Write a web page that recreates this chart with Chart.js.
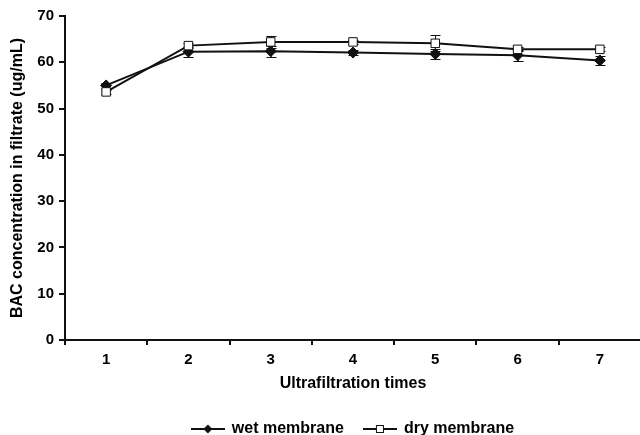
<!DOCTYPE html>
<html>
<head>
<meta charset="utf-8">
<script src="https://cdn.jsdelivr.net/npm/chart.js@4.4.1/dist/chart.umd.min.js"></script>
<style>
    html, body { margin: 0; padding: 0; background: #fff; overflow: hidden; width: 640px; height: 435px; }
    #wrap { position: relative; width: 648px; height: 447px; }
</style>
</head>
<body>
<div id="wrap"><canvas id="chart"></canvas></div>
<script>
const times       = ['1', '2', '3', '4', '5', '6', '7'];
const wetMembrane = [55.0, 62.3, 62.4, 62.1, 61.8, 61.5, 60.4];
const wetErrors   = [0.6, 1.1, 1.2, 0.5, 1.1, 1.2, 0.9];
const dryMembrane = [53.6, 63.6, 64.4, 64.4, 64.1, 62.8, 62.8];
const dryErrors   = [0.5, 0.5, 1.3, 0.4, 1.7, 0.4, 0.4];

const FONT = "'Liberation Sans', Arial, sans-serif";
const INK  = '#111';

// draws the little line + marker sample used in the legend
function legendSample(kind) {
    const c = document.createElement('canvas');
    c.width = 34; c.height = 10;
    const g = c.getContext('2d');
    g.strokeStyle = INK;
    g.lineWidth = 2;
    g.beginPath(); g.moveTo(0, 5); g.lineTo(34, 5); g.stroke();
    if (kind === 'diamond') {
        g.fillStyle = INK;
        g.beginPath();
        g.moveTo(17, 0.5); g.lineTo(21.5, 5); g.lineTo(17, 9.5); g.lineTo(12.5, 5);
        g.closePath(); g.fill();
    } else {
        g.fillStyle = '#fff';
        g.fillRect(13, 1, 8, 8);
        g.lineWidth = 1;
        g.strokeRect(13.5, 1.5, 7, 7);
    }
    return c;
}

// error bars are drawn behind the markers
const errorBars = {
    id: 'errorBars',
    beforeDatasetsDraw(chart) {
        const { ctx } = chart;
        const y = chart.scales.y;
        ctx.save();
        ctx.strokeStyle = INK;
        ctx.lineWidth = 1;
        chart.data.datasets.forEach((ds, i) => {
            chart.getDatasetMeta(i).data.forEach((pt, j) => {
                const top = y.getPixelForValue(ds.data[j] + ds.errors[j]);
                const bot = y.getPixelForValue(ds.data[j] - ds.errors[j]);
                const x = Math.round(pt.x) + 0.5;
                ctx.beginPath();
                ctx.moveTo(x, top); ctx.lineTo(x, bot);
                ctx.moveTo(x - 5, Math.round(top) + 0.5); ctx.lineTo(x + 5, Math.round(top) + 0.5);
                ctx.moveTo(x - 5, Math.round(bot) + 0.5); ctx.lineTo(x + 5, Math.round(bot) + 0.5);
                ctx.stroke();
            });
        });
        ctx.restore();
    }
};

const samples = [legendSample('diamond'), legendSample('square')];

new Chart(document.getElementById('chart'), {
    type: 'line',
    data: {
        labels: times,
        datasets: [
            {
                label: 'wet membrane',
                data: wetMembrane,
                errors: wetErrors,
                borderColor: INK,
                borderWidth: 2,
                pointStyle: 'rectRot',
                pointRadius: 5.5,
                pointBackgroundColor: INK,
                pointBorderColor: INK,
                pointBorderWidth: 1,
                order: 1,
            },
            {
                label: 'dry membrane',
                data: dryMembrane,
                errors: dryErrors,
                borderColor: INK,
                borderWidth: 2,
                pointStyle: 'rect',
                pointRadius: 6,
                pointBackgroundColor: '#fff',
                pointBorderColor: INK,
                pointBorderWidth: 1,
                order: 0,
            },
        ],
    },
    options: {
        responsive: true,
        maintainAspectRatio: false,
        animation: false,
        layout: { padding: { top: 16, right: 1, left: 0, bottom: 0 } },
        plugins: {
            tooltip: { enabled: false },
            legend: {
                position: 'bottom',
                fullSize: false,
                labels: {
                    usePointStyle: true,
                    pointStyleWidth: 32,
                    padding: 20,
                    color: '#000',
                    font: { family: FONT, size: 16, weight: 'bold' },
                    generateLabels: chart => chart.data.datasets.map((ds, i) => ({
                        text: ds.label,
                        pointStyle: samples[i],
                        datasetIndex: i,
                        fillStyle: INK,
                        strokeStyle: INK,
                        lineWidth: 0,
                        hidden: false,
                        fontColor: '#000',
                    })),
                },
            },
        },
        scales: {
            x: {
                offset: true,
                afterFit: s => { s.height = 61; },
                grid: { offset: true, drawOnChartArea: false, drawTicks: true, tickLength: 5, color: INK, lineWidth: 2 },
                border: { color: INK, width: 2 },
                ticks: { color: '#000', padding: 6, font: { family: FONT, size: 15, weight: 'bold' } },
                title: {
                    display: true,
                    text: 'Ultrafiltration times',
                    color: '#000',
                    padding: { top: 4, bottom: 8 },
                    font: { family: FONT, size: 16, weight: 'bold' },
                },
            },
            y: {
                min: 0,
                max: 70,
                afterFit: s => { s.width = 65; },
                grid: { drawOnChartArea: false, drawTicks: true, tickLength: 6, color: INK, lineWidth: 2 },
                border: { color: INK, width: 2 },
                ticks: { stepSize: 10, color: '#000', padding: 5, font: { family: FONT, size: 15, weight: 'bold' } },
                title: {
                    display: true,
                    text: 'BAC concentration in filtrate (ug/mL)',
                    color: '#000',
                    padding: { top: 8, bottom: 0 },
                    font: { family: FONT, size: 16, weight: 'bold' },
                },
            },
        },
    },
    plugins: [errorBars],
});
</script>
</body>
</html>
